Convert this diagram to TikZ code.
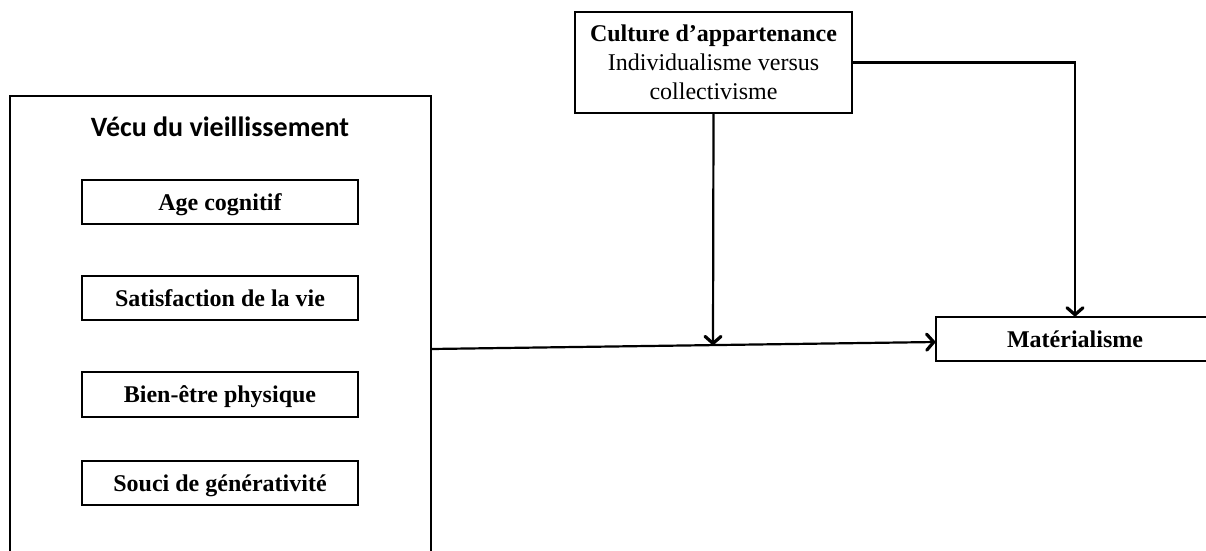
\documentclass[tikz,border=0pt]{standalone}
\usepackage{fontspec}
\setmainfont{Liberation Serif}
\newfontfamily\calib{Carlito}
\usetikzlibrary{arrows.meta}
\begin{document}
\begin{tikzpicture}[x=1pt,y=-1pt,
  box/.style={draw=black,line width=1.4pt,rectangle,inner sep=0pt,font=\fontsize{24}{29}\selectfont\bfseries},
  item/.style={box,minimum width=276pt,minimum height=44pt,text depth=0pt},
  conn/.style={line width=2.2pt,-{Straight Barb[length=7pt,width=16pt,line width=3.2pt,round]}}]
\useasboundingbox (0,0) rectangle (1206,550);
% left panel (open at bottom)
\node[draw=black,line width=1.4pt,rectangle,minimum width=421pt,minimum height=470pt,inner sep=0pt] (vecu) at (220.5,331) {};
\node[font=\calib\fontsize{28}{33}\selectfont\bfseries] (titre) at (220,127) {Vécu du vieillissement};
\node[item] (age) at (220,202) {Age cognitif};
\node[item] (sat) at (220,298) {Satisfaction de la vie};
\node[item,minimum height=45pt] (bien) at (220,394.5) {Bien-être physique};
\node[item] (souci) at (220,483) {Souci de générativité};
% top box
\node[box,minimum width=277pt,minimum height=101pt,align=center] (cult) at (713.5,62.5)
  {Culture d’appartenance\\\mdseries Individualisme versus\\\mdseries collectivisme};
% outcome
\node[item,minimum width=278pt] (mat) at (1075,339) {Matérialisme};
% connectors
\coordinate (s) at (431,349);
\coordinate (m) at (713,345);
\draw[conn] (s) -- ([yshift=-3pt]mat.west);
\draw[conn] (cult.south) -- (m);
\draw[conn] (cult.east) -| (mat.north);
\end{tikzpicture}
\end{document}
